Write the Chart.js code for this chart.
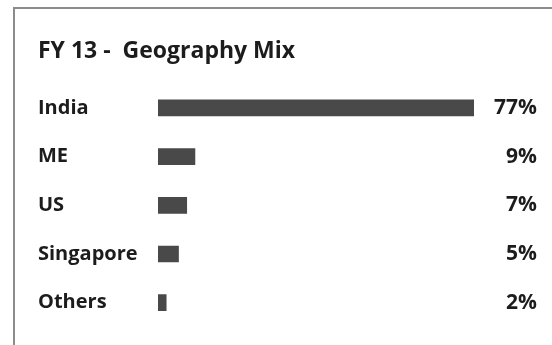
<!DOCTYPE html>
<html>
<head>
<meta charset="utf-8">
<script src="https://cdn.jsdelivr.net/npm/chart.js@4"></script>
<style>
  html, body { margin: 0; padding: 0; background: #fff; }
  #wrap { position: relative; width: 552px; height: 345px; overflow: hidden; }
  #frame { position: absolute; left: 13px; top: 7px; width: 700px; height: 500px;
           border-top: 2px solid #8c8c8c; border-left: 2px solid #8c8c8c; box-sizing: border-box; }
  #c { position: absolute; left: 0; top: 0; }
</style>
</head>
<body>
<div id="wrap">
  <div id="frame"></div>
  <canvas id="c" width="552" height="345"></canvas>
</div>
<script>
const titleText = "FY 13 -  Geography Mix";
const categories = ["India", "ME", "US", "Singapore", "Others"];
const shares = [77, 9, 7, 5, 2];
const shareLabels = ["77%", "9%", "7%", "5%", "2%"];

const catFont = { family: "'Open Sans', sans-serif", size: 20, weight: "bold" };
const valFont = { family: "'Open Sans', sans-serif", size: 21, weight: "bold" };

new Chart(document.getElementById("c"), {
  type: "bar",
  data: {
    labels: categories,
    datasets: [{
      data: shares,
      backgroundColor: "#494949",
      borderWidth: 0,
      barThickness: 16,
      yAxisID: "y"
    }]
  },
  options: {
    indexAxis: "y",
    responsive: false,
    animation: false,
    devicePixelRatio: 1,
    layout: { padding: { left: 38, right: 15, top: 0, bottom: 18 } },
    plugins: {
      legend: { display: false },
      tooltip: { enabled: false },
      title: {
        display: true,
        text: titleText,
        align: "start",
        color: "#1c1c1c",
        font: { family: "'Open Sans', sans-serif", size: 23, weight: "bold" },
        padding: { top: 38, bottom: 18 }
      }
    },
    scales: {
      x: { display: false, min: 0, max: 77 },
      y: {
        position: "left",
        grid: { display: false },
        border: { display: false },
        ticks: { color: "#1c1c1c", font: catFont, crossAlign: "far", padding: 0 },
        afterFit: (s) => { s.width = 120; }
      },
      y2: {
        type: "category",
        labels: shareLabels,
        position: "right",
        grid: { display: false },
        border: { display: false },
        ticks: { color: "#1c1c1c", font: valFont, crossAlign: "far", padding: 0 },
        afterFit: (s) => { s.width = 63; }
      }
    }
  }
});
</script>
</body>
</html>
